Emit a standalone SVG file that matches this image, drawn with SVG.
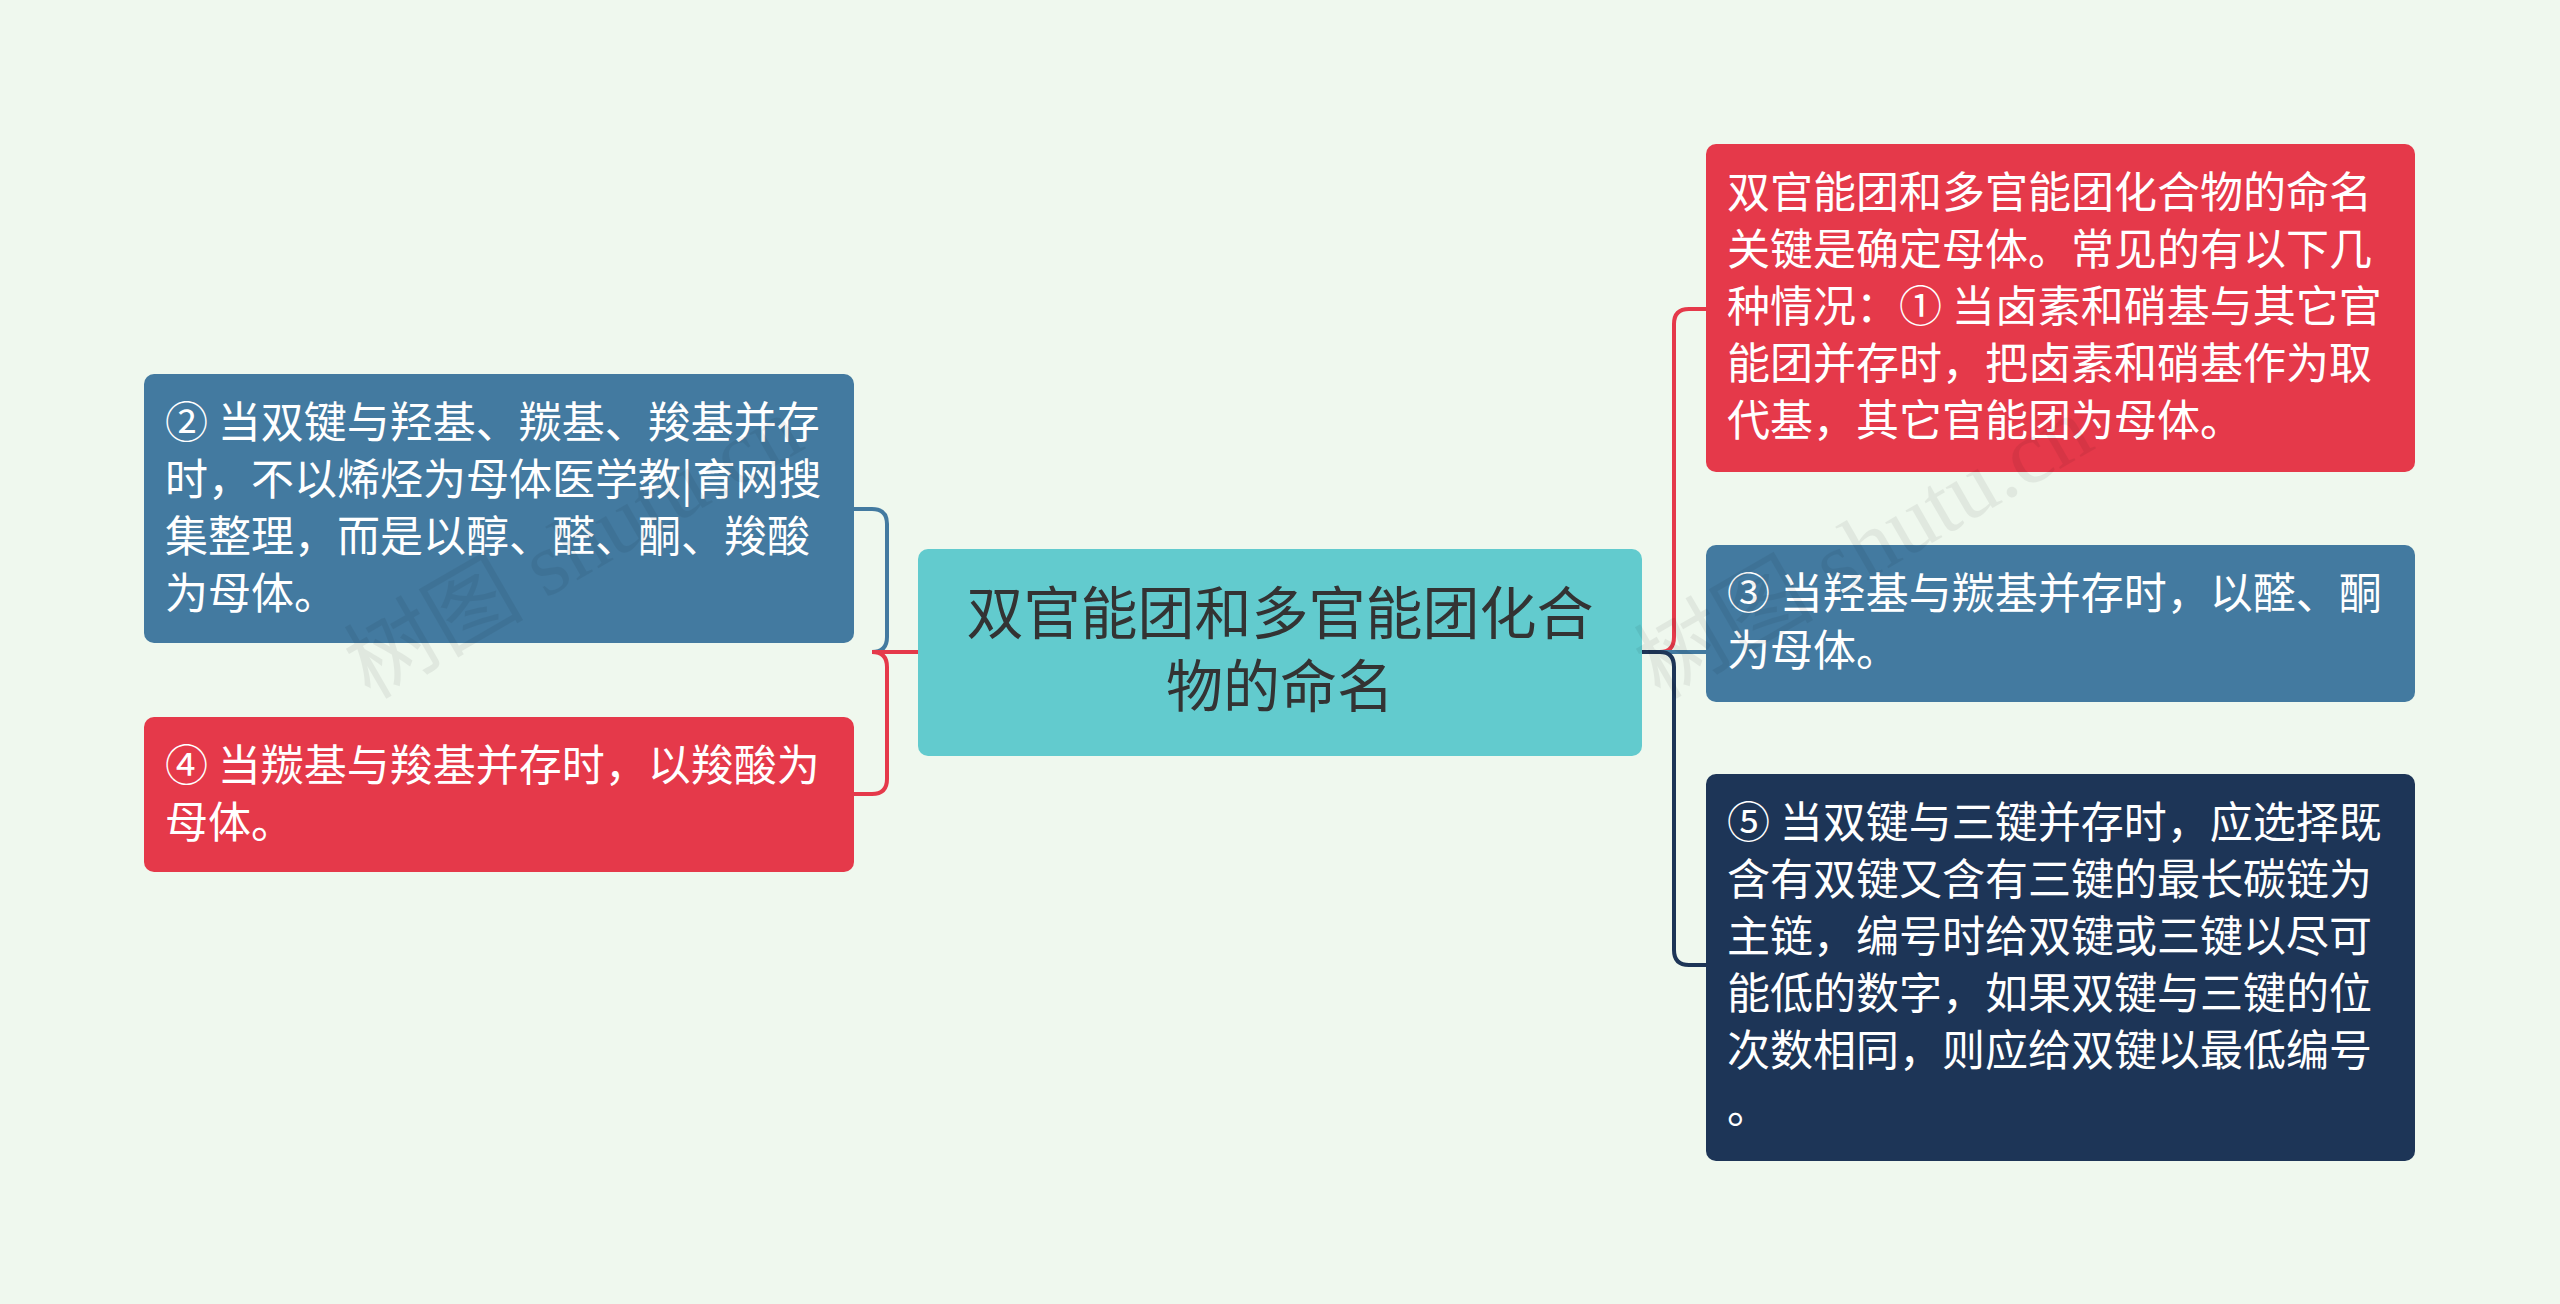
<svg xmlns="http://www.w3.org/2000/svg" width="2560" height="1304" viewBox="0 0 2560 1304">
<style>
.t{font-family:"Noto Sans CJK SC","Noto Sans",sans-serif;font-size:43px;fill:#fff}
.c{font-family:"Noto Sans CJK SC","Noto Sans",sans-serif;font-size:57px;fill:#333;text-anchor:middle}
.l{fill:none;stroke-width:4}
.w{font-family:"Liberation Serif","Noto Sans CJK SC",serif;font-size:90px;fill:#000;opacity:0.06}
</style>
<rect width="2560" height="1304" fill="#eff8ee"/>
<g id="connectors">
<path class="l" stroke="#437aa0" d="M918 652 H872 Q887 652 887 637 V524 Q887 509 872 509 H854"/>
<path class="l" stroke="#e5394a" d="M918 652 H872 Q887 652 887 667 V779 Q887 794 872 794 H854"/>
<path class="l" stroke="#e5394a" d="M1642 652 H1660 Q1674 652 1674 637 V324 Q1674 309 1689 309 H1706"/>
<path class="l" stroke="#437aa0" d="M1642 652 H1706"/>
<path class="l" stroke="#1d3557" d="M1642 652 H1660 Q1674 652 1674 667 V950 Q1674 965 1689 965 H1706"/>
</g>
<g id="center"><rect x="918" y="549" width="724" height="207" rx="10" fill="#62cbce"/>
<text class="c" x="1280" y="634">双官能团和多官能团化合</text><text class="c" x="1280" y="707">物的命名</text></g>
<g id="left1"><rect x="144" y="374" width="710" height="269" rx="10" fill="#437aa0"/>
<text class="t" x="165" y="438">② 当双键与羟基、羰基、羧基并存</text>
<text class="t" x="165" y="495">时，不以烯烃为母体医学教|育网搜</text>
<text class="t" x="165" y="552">集整理，而是以醇、醛、酮、羧酸</text>
<text class="t" x="165" y="609">为母体。</text></g>
<g id="left2"><rect x="144" y="717" width="710" height="155" rx="10" fill="#e5394a"/>
<text class="t" x="165" y="781">④ 当羰基与羧基并存时，以羧酸为</text>
<text class="t" x="165" y="838">母体。</text></g>
<g id="right1"><rect x="1706" y="144" width="709" height="328" rx="10" fill="#e5394a"/>
<text class="t" x="1727" y="208">双官能团和多官能团化合物的命名</text>
<text class="t" x="1727" y="265">关键是确定母体。常见的有以下几</text>
<text class="t" x="1727" y="322">种情况：① 当卤素和硝基与其它官</text>
<text class="t" x="1727" y="379">能团并存时，把卤素和硝基作为取</text>
<text class="t" x="1727" y="436">代基，其它官能团为母体。</text></g>
<g id="right2"><rect x="1706" y="545" width="709" height="157" rx="10" fill="#437aa0"/>
<text class="t" x="1727" y="609">③ 当羟基与羰基并存时，以醛、酮</text>
<text class="t" x="1727" y="666">为母体。</text></g>
<g id="right3"><rect x="1706" y="774" width="709" height="387" rx="10" fill="#1d3557"/>
<text class="t" x="1727" y="838">⑤ 当双键与三键并存时，应选择既</text>
<text class="t" x="1727" y="895">含有双键又含有三键的最长碳链为</text>
<text class="t" x="1727" y="952">主链，编号时给双键或三键以尽可</text>
<text class="t" x="1727" y="1009">能低的数字，如果双键与三键的位</text>
<text class="t" x="1727" y="1066">次数相同，则应给双键以最低编号</text>
<text class="t" x="1727" y="1123">。</text></g>
<text class="w" transform="translate(370 700) rotate(-30)">树图 shutu.cn</text>
<text class="w" transform="translate(1660 700) rotate(-30)">树图 shutu.cn</text>
</svg>
